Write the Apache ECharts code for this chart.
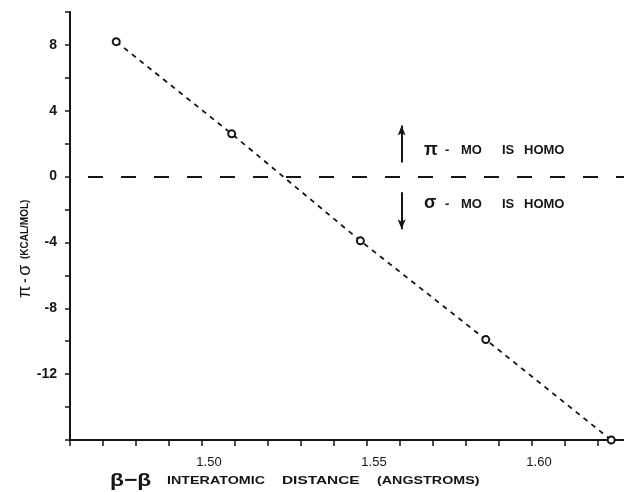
<!DOCTYPE html>
<html>
<head>
<meta charset="utf-8">
<script src="https://cdn.jsdelivr.net/npm/echarts@6/dist/echarts.min.js"></script>
<style>
  html, body { margin: 0; padding: 0; background: #fff; }
  #main { width: 624px; height: 492px; }
</style>
</head>
<body>
<div id="main"></div>
<script>
// beta-beta distance (angstroms) and pi - sigma energy (kcal/mol)
var distances = [1.474, 1.509, 1.548, 1.586, 1.624];
var energies = [8.2, 2.6, -3.9, -9.9, -16.0];
var xTickLabels = ['1.50', '1.55', '1.60'];
var yTickLabels = [8, 4, 0, -4, -8, -12];

var ink = '#151515';
var font = '"Liberation Sans", "DejaVu Sans", sans-serif';

// one word of hand lettering, placed by its left edge and vertical centre
function word(txt, x, y, size, sx) {
    return {
        type: 'text', x: x, y: y, scaleX: sx || 1,
        style: {
            text: txt, fill: ink, fontFamily: font, fontSize: size,
            fontWeight: 'bold', verticalAlign: 'middle'
        }
    };
}

var myChart = echarts.init(document.getElementById('main'));
var option = {
    backgroundColor: '#fff',
    animation: false,
    grid: { left: 70, width: 561, top: 12, bottom: 52, outerBoundsMode: 'none', containLabel: false },
    xAxis: {
        type: 'value',
        min: 1.46,
        max: 1.63,
        interval: 0.01,
        splitLine: { show: false },
        axisLine: { onZero: false, lineStyle: { color: ink, width: 2 } },
        axisTick: { show: true, length: 6, lineStyle: { color: ink, width: 1.5 } },
        axisLabel: {
            margin: 16,
            color: ink,
            fontFamily: font,
            fontSize: 13,
            padding: [0, 0, 0, 14],
            formatter: function (v) {
                var s = v.toFixed(2);
                return xTickLabels.indexOf(s) >= 0 ? s : '';
            }
        }
    },
    yAxis: {
        type: 'value',
        min: -16,
        max: 10,
        interval: 2,
        splitLine: { show: false },
        axisLine: { lineStyle: { color: ink, width: 2 } },
        axisTick: { show: true, length: 5, lineStyle: { color: ink, width: 1.5 } },
        axisLabel: {
            margin: 13,
            color: ink,
            fontFamily: font,
            fontSize: 14,
            fontWeight: 'bold',
            formatter: function (v) {
                return yTickLabels.indexOf(v) >= 0 ? String(v) : '';
            }
        }
    },
    series: [
        {
            type: 'line',
            data: distances.map(function (d, i) { return [d, energies[i]]; }),
            symbol: 'emptyCircle',
            symbolSize: 7,
            showSymbol: true,
            clip: false,
            itemStyle: { color: ink, borderColor: ink, borderWidth: 1.8 },
            lineStyle: { color: ink, width: 1.8, type: [5, 5] },
            z: 3,
            markLine: {
                silent: true,
                symbol: 'none',
                label: { show: false },
                lineStyle: { color: ink, width: 2, type: [15, 18], dashOffset: 15 },
                data: [{ yAxis: 0 }]
            }
        },
        {
            // arrows of the annotation
            type: 'line',
            data: [],
            markLine: {
                silent: true,
                symbol: ['none', 'arrow'],
                symbolSize: [6, 10],
                label: { show: false },
                lineStyle: { color: ink, width: 2, type: 'solid' },
                data: [
                    [{ coord: [1.5605, 0.85] }, { coord: [1.5605, 3.1] }],
                    [{ coord: [1.5605, -0.95] }, { coord: [1.5605, -3.2] }]
                ]
            }
        }
    ],
    graphic: [
        // pi - MO is HOMO
        word('π', 424, 150, 18),
        word('-', 445, 150, 13),
        word('MO', 461, 150, 13),
        word('IS', 502, 150, 13),
        word('HOMO', 524, 150, 13),
        // sigma - MO is HOMO
        word('σ', 424, 203, 18),
        word('-', 445, 204, 13),
        word('MO', 461, 204, 13),
        word('IS', 502, 204, 13),
        word('HOMO', 524, 204, 13),
        // x axis title
        word('β−β', 110, 481, 19, 1.2),
        word('INTERATOMIC', 167, 481, 11, 1.3),
        word('DISTANCE', 282, 481, 11, 1.4),
        word('(ANGSTROMS)', 377, 481, 11, 1.3),
        // y axis title
        {
            type: 'text', x: 16, y: 298, rotation: Math.PI / 2,
            style: {
                text: '{g|π} {s|-} {g|σ}  (KCAL/MOL)',
                fill: ink, fontFamily: font, fontSize: 10, fontWeight: 'bold',
                rich: {
                    g: { fontSize: 18, fontFamily: font, fill: ink },
                    s: { fontSize: 13, fontFamily: font, fill: ink, fontWeight: 'bold' }
                }
            }
        }
    ]
};
myChart.setOption(option);
window.onresize = myChart.resize;
</script>
</body>
</html>
